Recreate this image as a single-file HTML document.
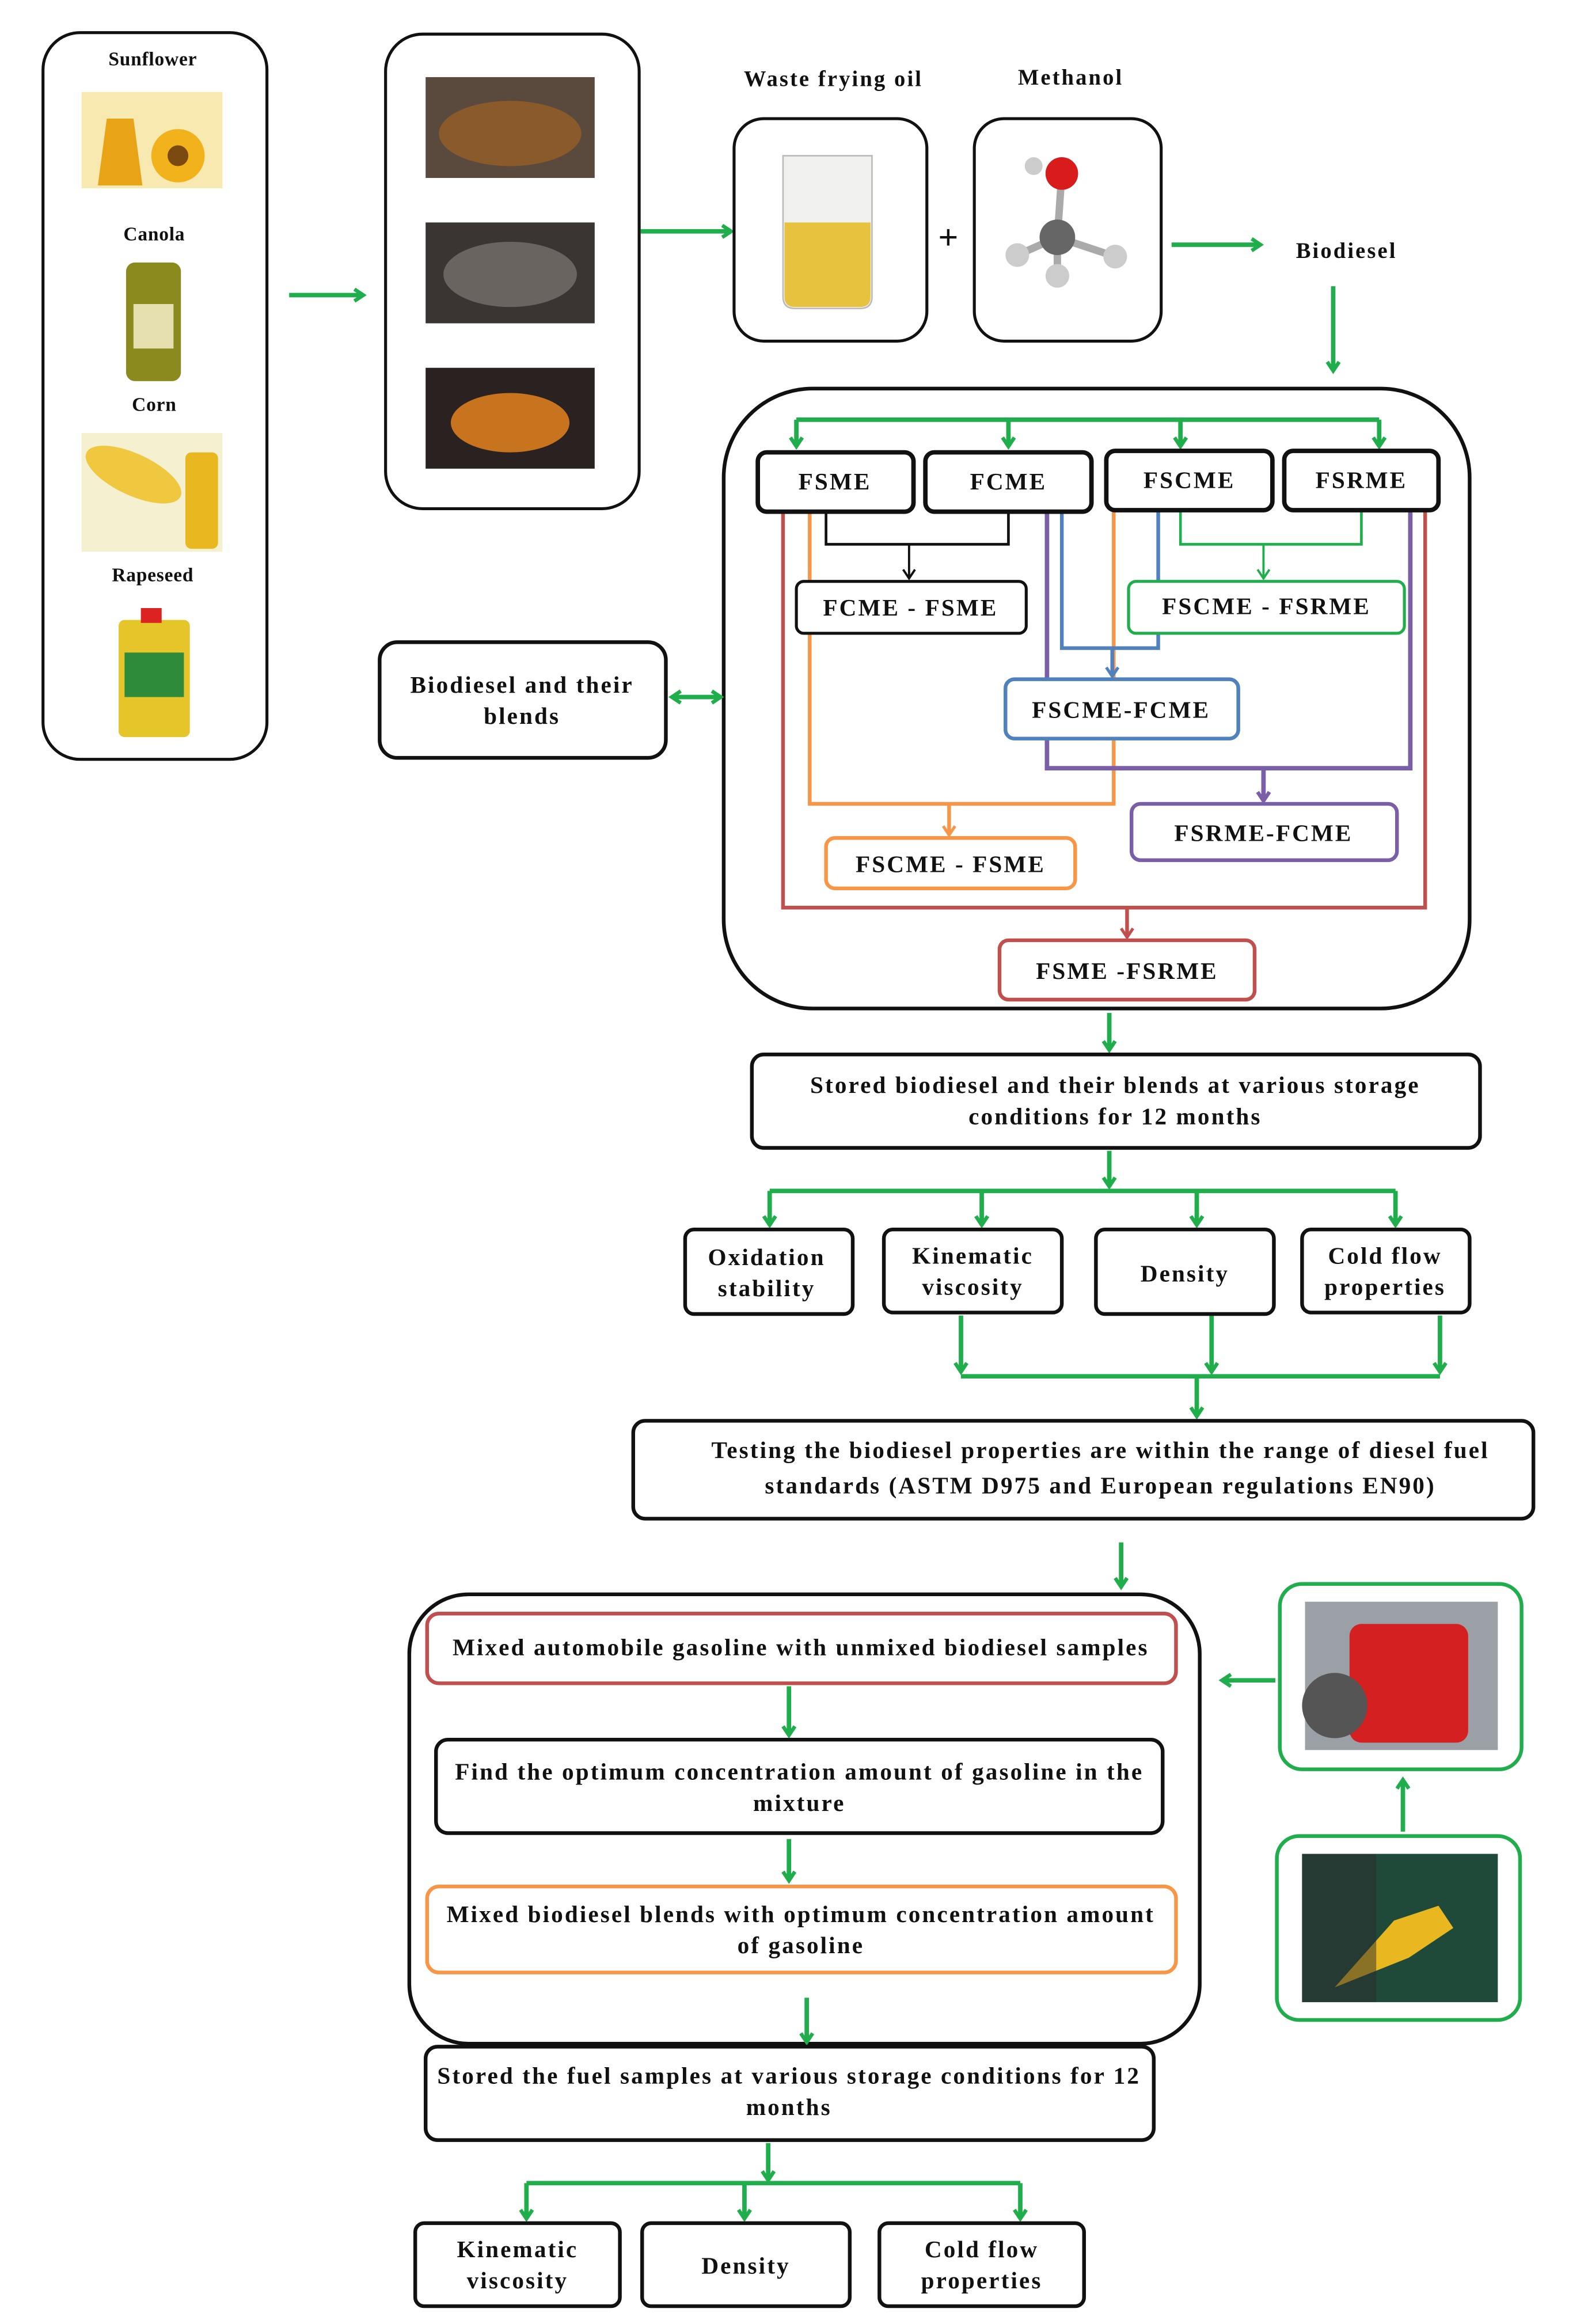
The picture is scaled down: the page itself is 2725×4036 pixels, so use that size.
<!DOCTYPE html>
<html><head><meta charset="utf-8"><style>
html,body{margin:0;padding:0;background:#fff}
svg{display:block}
text{font-family:"Liberation Serif",serif;font-weight:bold;fill:#111;letter-spacing:1.2px}
.sm{letter-spacing:0.3px}
</style></head><body>
<svg width="2725" height="4036" viewBox="0 0 1058 1567" preserveAspectRatio="none" xmlns="http://www.w3.org/2000/svg">
<defs>
<marker id="g" markerWidth="10" markerHeight="10" refX="7" refY="5" orient="auto" markerUnits="userSpaceOnUse"><path d="M1,1 L7,5 L1,9" fill="none" stroke="#1fae4b" stroke-width="2.5"/></marker>
<marker id="k" markerWidth="10" markerHeight="10" refX="7" refY="5" orient="auto" markerUnits="userSpaceOnUse"><path d="M1,1 L7,5 L1,9" fill="none" stroke="#111" stroke-width="1.5"/></marker>
<marker id="gs" markerWidth="10" markerHeight="10" refX="7" refY="5" orient="auto" markerUnits="userSpaceOnUse"><path d="M1,1 L7,5 L1,9" fill="none" stroke="#1fae4b" stroke-width="1.5"/></marker>
<marker id="b" markerWidth="10" markerHeight="10" refX="7" refY="5" orient="auto" markerUnits="userSpaceOnUse"><path d="M1,1 L7,5 L1,9" fill="none" stroke="#4f81bd" stroke-width="2"/></marker>
<marker id="p" markerWidth="10" markerHeight="10" refX="7" refY="5" orient="auto" markerUnits="userSpaceOnUse"><path d="M1,1 L7,5 L1,9" fill="none" stroke="#7a5ea8" stroke-width="2.5"/></marker>
<marker id="o" markerWidth="10" markerHeight="10" refX="7" refY="5" orient="auto" markerUnits="userSpaceOnUse"><path d="M1,1 L7,5 L1,9" fill="none" stroke="#f79646" stroke-width="2"/></marker>
<marker id="r" markerWidth="10" markerHeight="10" refX="7" refY="5" orient="auto" markerUnits="userSpaceOnUse"><path d="M1,1 L7,5 L1,9" fill="none" stroke="#c0504d" stroke-width="2"/></marker>
</defs>

<rect x="29" y="22" width="151" height="490" rx="25" fill="none" stroke="#111" stroke-width="2"/>
<g font-size="13" text-anchor="middle" class="sm">
<text class="sm" x="103" y="44">Sunflower</text><text class="sm" x="104" y="162">Canola</text><text class="sm" x="104" y="277">Corn</text><text class="sm" x="103" y="392">Rapeseed</text>
</g>
<rect x="55" y="62" width="95" height="65" fill="#f7e9b0"/><circle cx="120" cy="105" r="18" fill="#f2b21b"/><circle cx="120" cy="105" r="7" fill="#7a4a10"/><path d="M72,80 l18,0 l6,45 l-30,0z" fill="#e8a316"/>
<rect x="85" y="177" width="37" height="80" rx="6" fill="#8b8a1e"/><rect x="90" y="205" width="27" height="30" fill="#e6e0b0"/>
<rect x="55" y="292" width="95" height="80" fill="#f4f0d0"/><ellipse cx="90" cy="320" rx="35" ry="14" fill="#efc840" transform="rotate(25 90 320)"/><rect x="125" y="305" width="22" height="65" rx="4" fill="#e9b820"/>
<rect x="80" y="418" width="48" height="79" rx="4" fill="#e6c52a"/><rect x="84" y="440" width="40" height="30" fill="#2e8b3a"/><rect x="95" y="410" width="14" height="10" fill="#d22"/>

<line x1="195" y1="199" x2="245" y2="199" stroke="#1fae4b" stroke-width="3" marker-end="url(#g)"/>

<rect x="260" y="23" width="171" height="320" rx="25" fill="none" stroke="#111" stroke-width="2"/>
<rect x="287" y="52" width="114" height="68" fill="#5a4a3e"/><ellipse cx="344" cy="90" rx="48" ry="22" fill="#8a5a2a"/>
<rect x="287" y="150" width="114" height="68" fill="#3a3432"/><ellipse cx="344" cy="185" rx="45" ry="22" fill="#6a6460"/>
<rect x="287" y="248" width="114" height="68" fill="#2a2220"/><ellipse cx="344" cy="285" rx="40" ry="20" fill="#c8741e"/>

<line x1="432" y1="156" x2="493" y2="156" stroke="#1fae4b" stroke-width="3" marker-end="url(#g)"/>
<g font-size="15" text-anchor="middle"><text x="562" y="58">Waste frying oil</text><text x="722" y="57">Methanol</text><text x="908" y="174">Biodiesel</text></g>
<rect x="495" y="80" width="130" height="150" rx="20" fill="none" stroke="#111" stroke-width="2"/>
<path d="M528,105 l60,0 l0,95 q0,8 -8,8 l-44,0 q-8,0 -8,-8z" fill="#f0f0ee" stroke="#bbb"/><path d="M529,150 l58,0 l0,50 q0,7 -7,7 l-44,0 q-7,0 -7,-7z" fill="#e7c23e"/>
<text x="640" y="168" font-size="24" text-anchor="middle" font-weight="normal">+</text>
<rect x="657" y="80" width="126" height="150" rx="20" fill="none" stroke="#111" stroke-width="2"/>
<g stroke="#aaa" stroke-width="5"><line x1="716" y1="117" x2="713" y2="160"/><line x1="713" y1="160" x2="686" y2="172"/><line x1="713" y1="160" x2="752" y2="173"/><line x1="713" y1="160" x2="713" y2="185"/></g>
<circle cx="716" cy="117" r="11" fill="#d81c1c"/><circle cx="713" cy="160" r="12" fill="#666"/><circle cx="686" cy="172" r="8" fill="#ccc"/><circle cx="752" cy="173" r="8" fill="#ccc"/><circle cx="713" cy="186" r="8" fill="#ccc"/><circle cx="697" cy="112" r="6" fill="#ccc"/>
<line x1="790" y1="165" x2="850" y2="165" stroke="#1fae4b" stroke-width="3" marker-end="url(#g)"/>
<line x1="899" y1="193" x2="899" y2="250" stroke="#1fae4b" stroke-width="3" marker-end="url(#g)"/>

<rect x="488" y="262" width="503" height="418" rx="60" fill="none" stroke="#111" stroke-width="2.5"/>
<g stroke="#1fae4b" stroke-width="3" fill="none">
<line x1="537" y1="283" x2="930" y2="283"/>
<line x1="537" y1="283" x2="537" y2="301" marker-end="url(#g)"/><line x1="680" y1="283" x2="680" y2="301" marker-end="url(#g)"/><line x1="796" y1="283" x2="796" y2="301" marker-end="url(#g)"/><line x1="930" y1="283" x2="930" y2="301" marker-end="url(#g)"/>
</g>
<g fill="none" stroke-width="2.5">
<path d="M528,345 V612 H961 V345" stroke="#c0504d"/><line x1="760" y1="612" x2="760" y2="632" stroke="#c0504d" marker-end="url(#r)"/>
<path d="M546,345 V542 H751 V345" stroke="#f79646"/><line x1="640" y1="542" x2="640" y2="563" stroke="#f79646" marker-end="url(#o)"/>
<path d="M706,345 V518 H951 V345" stroke="#7a5ea8" stroke-width="3"/><line x1="852" y1="518" x2="852" y2="540" stroke="#7a5ea8" stroke-width="3" marker-end="url(#p)"/>
<path d="M716,345 V437 H781 V345" stroke="#4f81bd"/><line x1="750" y1="437" x2="750" y2="456" stroke="#4f81bd" marker-end="url(#b)"/>
<path d="M557,345 V367 H680 V345" stroke="#111" stroke-width="1.8"/><line x1="613" y1="367" x2="613" y2="390" stroke="#111" stroke-width="1.5" marker-end="url(#k)"/>
<path d="M796,345 V367 H918 V345" stroke="#1fae4b" stroke-width="1.8"/><line x1="852" y1="367" x2="852" y2="390" stroke="#1fae4b" stroke-width="1.5" marker-end="url(#gs)"/>
</g>
<g stroke-width="3" fill="#fff" stroke="#111">
<rect x="511" y="305" width="105" height="40" rx="6"/><rect x="624" y="305" width="112" height="40" rx="6"/><rect x="746" y="304" width="112" height="40" rx="6"/><rect x="866" y="304" width="104" height="40" rx="6"/>
</g>
<g stroke-width="2" fill="#fff">
<rect x="537" y="392" width="155" height="35" rx="5" stroke="#111"/>
<rect x="761" y="392" width="186" height="35" rx="5" stroke="#1fae4b"/>
<rect x="678" y="458" width="157" height="40" rx="6" stroke="#4f81bd" stroke-width="2.5"/>
<rect x="763" y="542" width="179" height="38" rx="6" stroke="#7a5ea8" stroke-width="2.5"/>
<rect x="557" y="565" width="168" height="34" rx="6" stroke="#f79646" stroke-width="2.5"/>
<rect x="674" y="634" width="172" height="40" rx="6" stroke="#c0504d" stroke-width="2.5"/>
</g>
<g font-size="16" text-anchor="middle">
<text x="563" y="330">FSME</text><text x="680" y="330">FCME</text><text x="802" y="329">FSCME</text><text x="918" y="329">FSRME</text>
<text x="614" y="415">FCME - FSME</text><text x="854" y="414">FSCME - FSRME</text><text x="756" y="484">FSCME-FCME</text>
<text x="852" y="567">FSRME-FCME</text><text x="641" y="588">FSCME - FSME</text><text x="760" y="660">FSME -FSRME</text>
</g>

<rect x="256" y="433" width="193" height="78" rx="12" fill="none" stroke="#111" stroke-width="2.5"/>
<text x="352" y="467" font-size="16" text-anchor="middle">Biodiesel and their</text><text x="352" y="488" font-size="16" text-anchor="middle">blends</text>
<line x1="453" y1="470" x2="486" y2="470" stroke="#1fae4b" stroke-width="3" marker-end="url(#g)"/>
<polyline points="459,466 453,470 459,474" fill="none" stroke="#1fae4b" stroke-width="2.5"/>

<line x1="748" y1="683" x2="748" y2="708" stroke="#1fae4b" stroke-width="3" marker-end="url(#g)"/>
<rect x="507" y="711" width="491" height="63" rx="8" fill="none" stroke="#111" stroke-width="2.5"/>
<text x="752" y="737" font-size="16" text-anchor="middle">Stored biodiesel and their blends at various storage</text>
<text x="752" y="758" font-size="16" text-anchor="middle">conditions for 12 months</text>

<g stroke="#1fae4b" stroke-width="3" fill="none">
<line x1="748" y1="776" x2="748" y2="800" marker-end="url(#g)"/>
<line x1="519" y1="803" x2="941" y2="803"/>
<line x1="519" y1="803" x2="519" y2="826" marker-end="url(#g)"/><line x1="662" y1="803" x2="662" y2="826" marker-end="url(#g)"/><line x1="807" y1="803" x2="807" y2="826" marker-end="url(#g)"/><line x1="941" y1="803" x2="941" y2="826" marker-end="url(#g)"/>
<line x1="648" y1="887" x2="648" y2="925" marker-end="url(#g)"/><line x1="817" y1="887" x2="817" y2="925" marker-end="url(#g)"/><line x1="971" y1="887" x2="971" y2="925" marker-end="url(#g)"/>
<line x1="648" y1="928" x2="971" y2="928"/>
<line x1="807" y1="928" x2="807" y2="955" marker-end="url(#g)"/>
</g>
<g fill="none" stroke="#111" stroke-width="2.5">
<rect x="462" y="829" width="113" height="57" rx="6"/><rect x="596" y="829" width="120" height="56" rx="6"/><rect x="739" y="829" width="120" height="57" rx="6"/><rect x="878" y="829" width="113" height="56" rx="6"/>
</g>
<g font-size="16" text-anchor="middle">
<text x="517" y="853">Oxidation</text><text x="517" y="874">stability</text>
<text x="656" y="852">Kinematic</text><text x="656" y="873">viscosity</text>
<text x="799" y="864">Density</text>
<text x="934" y="852">Cold flow</text><text x="934" y="873">properties</text>
</g>

<rect x="427" y="958" width="607" height="66" rx="8" fill="none" stroke="#111" stroke-width="2.5"/>
<text x="742" y="983" font-size="16" text-anchor="middle">Testing the biodiesel properties are within the range of diesel fuel</text>
<text x="742" y="1007" font-size="16" text-anchor="middle">standards (ASTM D975 and European regulations EN90)</text>

<line x1="756" y1="1040" x2="756" y2="1070" stroke="#1fae4b" stroke-width="3" marker-end="url(#g)"/>
<rect x="276" y="1075" width="533" height="303" rx="40" fill="none" stroke="#111" stroke-width="2.5"/>
<rect x="288" y="1088" width="505" height="47" rx="8" fill="none" stroke="#c0504d" stroke-width="2.5"/>
<text x="540" y="1116" font-size="16" text-anchor="middle">Mixed automobile gasoline with unmixed biodiesel samples</text>
<line x1="532" y1="1137" x2="532" y2="1170" stroke="#1fae4b" stroke-width="3" marker-end="url(#g)"/>
<rect x="294" y="1173" width="490" height="63" rx="8" fill="none" stroke="#111" stroke-width="2.5"/>
<text x="539" y="1200" font-size="16" text-anchor="middle">Find the optimum concentration amount of gasoline in the</text>
<text x="539" y="1221" font-size="16" text-anchor="middle">mixture</text>
<line x1="532" y1="1240" x2="532" y2="1268" stroke="#1fae4b" stroke-width="3" marker-end="url(#g)"/>
<rect x="288" y="1272" width="505" height="58" rx="8" fill="none" stroke="#f79646" stroke-width="2.5"/>
<text x="540" y="1296" font-size="16" text-anchor="middle">Mixed biodiesel blends with optimum concentration amount</text>
<text x="540" y="1317" font-size="16" text-anchor="middle">of gasoline</text>

<line x1="860" y1="1133" x2="824" y2="1133" stroke="#1fae4b" stroke-width="3" marker-end="url(#g)"/>
<rect x="863" y="1068" width="163" height="125" rx="15" fill="none" stroke="#1fae4b" stroke-width="2.5"/>
<rect x="880" y="1080" width="130" height="100" fill="#9aa0a6"/><rect x="910" y="1095" width="80" height="80" rx="8" fill="#d42020"/><circle cx="900" cy="1150" r="22" fill="#555"/>
<line x1="946" y1="1235" x2="946" y2="1200" stroke="#1fae4b" stroke-width="3" marker-end="url(#g)"/>
<rect x="861" y="1238" width="164" height="124" rx="15" fill="none" stroke="#1fae4b" stroke-width="2.5"/>
<rect x="878" y="1250" width="132" height="100" fill="#1f4a3a"/><path d="M900,1340 l40,-45 l30,-10 l10,15 l-30,20z" fill="#e9b820"/><rect x="878" y="1250" width="50" height="100" fill="#2a2a2a" opacity=".5"/>

<line x1="544" y1="1347" x2="544" y2="1377" stroke="#1fae4b" stroke-width="3" marker-end="url(#g)"/>
<rect x="287" y="1380" width="491" height="63" rx="8" fill="none" stroke="#111" stroke-width="2.5"/>
<text x="532" y="1405" font-size="16" text-anchor="middle">Stored the fuel samples at various storage conditions for 12</text>
<text x="532" y="1426" font-size="16" text-anchor="middle">months</text>
<g stroke="#1fae4b" stroke-width="3" fill="none">
<line x1="518" y1="1445" x2="518" y2="1470" marker-end="url(#g)"/>
<line x1="355" y1="1472" x2="688" y2="1472"/>
<line x1="355" y1="1472" x2="355" y2="1496" marker-end="url(#g)"/><line x1="502" y1="1472" x2="502" y2="1496" marker-end="url(#g)"/><line x1="688" y1="1472" x2="688" y2="1496" marker-end="url(#g)"/>
</g>
<g fill="none" stroke="#111" stroke-width="2.5">
<rect x="280" y="1499" width="138" height="56" rx="6"/><rect x="433" y="1499" width="140" height="56" rx="6"/><rect x="593" y="1499" width="138" height="56" rx="6"/>
</g>
<g font-size="16" text-anchor="middle">
<text x="349" y="1522">Kinematic</text><text x="349" y="1543">viscosity</text>
<text x="503" y="1533">Density</text>
<text x="662" y="1522">Cold flow</text><text x="662" y="1543">properties</text>
</g>
</svg>
</body></html>
